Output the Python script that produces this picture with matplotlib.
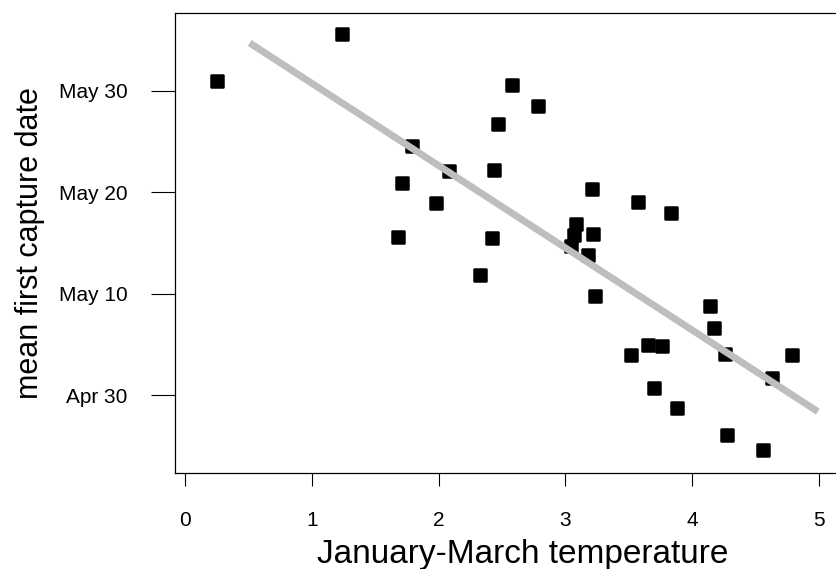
import matplotlib
matplotlib.use('Agg')
import matplotlib.pyplot as plt
from matplotlib.markers import MarkerStyle
import numpy as np

# January-March temperature (x) and mean first capture date, in days after Apr 30 (y)
temperatura = [0.25, 1.24, 2.58, 2.47, 1.79, 2.08, 2.44, 1.71, 1.98, 1.68,
               2.42, 2.78, 3.21, 3.57, 3.83, 3.08, 3.07, 3.04, 3.22, 3.18,
               2.33, 3.23, 3.52, 3.65, 3.76, 4.14, 4.17, 4.26, 4.79, 4.63,
               3.70, 3.88, 4.27, 4.56]
dias = [31.0, 35.6, 30.6, 26.7, 24.6, 22.1, 22.2, 20.9, 18.9, 15.6,
        15.5, 28.5, 20.3, 19.0, 18.0, 16.9, 15.8, 14.7, 15.9, 13.8,
        11.9, 9.8, 4.0, 5.0, 4.9, 8.8, 6.6, 4.1, 4.0, 1.7,
        0.7, -1.2, -3.9, -5.4]

# recta de regresión
ordenada = 38.83
pendiente = -8.10
rango_recta = [0.51, 4.99]

x_ticks = [0, 1, 2, 3, 4, 5]
y_ticks = [0, 10, 20, 30]
y_labels = ['Apr 30', 'May 10', 'May 20', 'May 30']

plt.rcParams['font.family'] = ['Liberation Sans', 'DejaVu Sans']

fig = plt.figure(figsize=(8.36, 5.69), dpi=100)
# el recuadro sigue más allá del borde derecho de la imagen
ax = fig.add_axes([0.2093, 0.1687, 1.042 - 0.2093, 0.9772 - 0.1687])

cuadrado = MarkerStyle('s', joinstyle='round')
ax.scatter(temperatura, dias, marker=cuadrado, s=72, c='black',
           edgecolors='black', linewidths=1.8, zorder=2)

xr = np.array(rango_recta)
ax.plot(xr, ordenada + pendiente * xr, color='#BEBEBE', lw=5,
        solid_capstyle='butt', zorder=3)

ax.set_xlim(-0.079, 5.41)
ax.set_ylim(-7.63, 37.65)
ax.set_xticks(x_ticks)
ax.set_yticks(y_ticks)
ax.set_yticklabels(y_labels)

ax.spines['right'].set_visible(False)
for s in ['left', 'bottom', 'top']:
    ax.spines[s].set_linewidth(0.9)

ax.tick_params(axis='x', direction='out', length=9.5, width=0.8, pad=18, labelsize=15)
ax.tick_params(axis='y', direction='out', length=17, width=0.8, pad=17, labelsize=15)

ax.set_xlabel('January-March temperature', fontsize=24, labelpad=6)
ax.set_ylabel('mean first capture date', fontsize=22, labelpad=10)

fig.savefig('out.png', dpi=100)
